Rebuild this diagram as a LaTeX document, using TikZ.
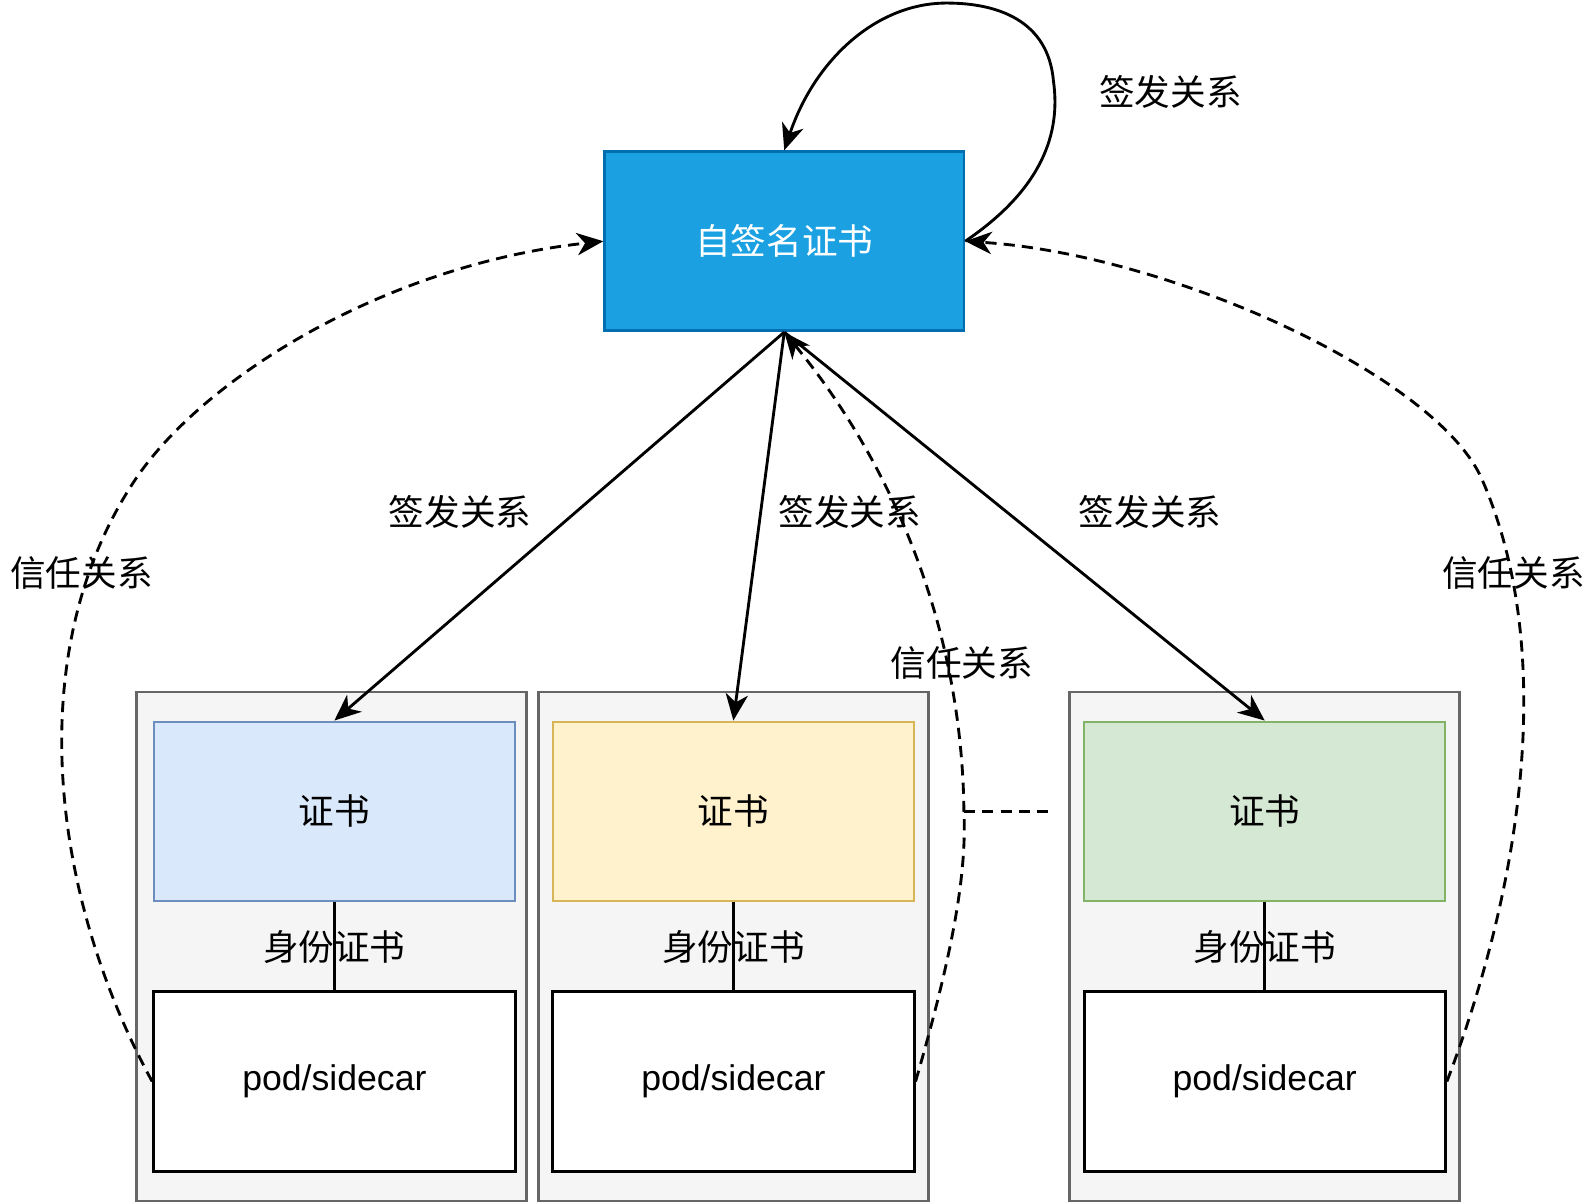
\documentclass[tikz,border=0pt]{standalone}
\usepackage{fontspec}
\setmainfont{Liberation Sans}
\newfontfamily\cjk{Noto Sans CJK SC}
\usetikzlibrary{arrows.meta, calc}

\definecolor{rootfill}{HTML}{1BA1E2}
\definecolor{rootline}{HTML}{006EAF}
\definecolor{grpfill}{HTML}{F5F5F5}
\definecolor{grpline}{HTML}{666666}
\definecolor{bluefill}{HTML}{DAE8FC}
\definecolor{blueline}{HTML}{6C8EBF}
\definecolor{yellowfill}{HTML}{FFF2CC}
\definecolor{yellowline}{HTML}{D6B656}
\definecolor{greenfill}{HTML}{D5E8D4}
\definecolor{greenline}{HTML}{82B366}

\tikzset{
    my-root/.style={
        draw=rootline, fill=rootfill, line width=1.3pt, inner sep=0pt,
        minimum width=176.5pt, minimum height=88pt, text=white,
        font=\cjk\fontsize{17.5}{21}\selectfont
    },
    my-group/.style={
        draw=grpline, fill=grpfill, line width=1.3pt, inner sep=0pt,
        minimum width=191.5pt, minimum height=250pt
    },
    my-cert/.style 2 args={
        draw=#1, fill=#2, line width=1.1pt, inner sep=0pt,
        minimum width=177.5pt, minimum height=88pt,
        font=\cjk\fontsize{17.5}{21}\selectfont
    },
    my-pod/.style={
        draw, fill=white, line width=1.5pt, inner sep=0pt,
        minimum width=177.5pt, minimum height=88.5pt,
        font=\fontsize{17.5}{21}\selectfont
    },
    my-label/.style={
        inner sep=0pt, font=\cjk\fontsize{17.5}{21}\selectfont
    },
    my-issue/.style={
        -{Stealth[length=13pt, width=11pt, inset=4pt]}, line width=1.4pt
    },
    my-trust/.style={
        -{Stealth[length=13pt, width=11pt, inset=4pt]}, line width=1.4pt,
        dash pattern=on 5.5pt off 3.5pt
    },
}

\begin{document}
\begin{tikzpicture}[x=0.5pt, y=-0.5pt]

        \useasboundingbox (0,0) rectangle (1568,1182);

        % ROOT
        \node[my-root]  (ROOT)  at (770.5,237)  {自签名证书};

        % GROUPS
        \node[my-group] (GRP1)  at (325.5,930)  {};
        \node[my-group] (GRP2)  at (720.5,930)  {};
        \node[my-group] (GRP3)  at (1242.5,930) {};

        % CERTS
        \node[my-cert={blueline}{bluefill}]     (CERT1) at (328.5,797)  {证书};
        \node[my-cert={yellowline}{yellowfill}] (CERT2) at (720.5,797)  {证书};
        \node[my-cert={greenline}{greenfill}]   (CERT3) at (1242.5,797) {证书};

        % PODS
        \node[my-pod]   (POD1)  at (328.5,1062.5)  {pod/sidecar};
        \node[my-pod]   (POD2)  at (720.5,1062.5)  {pod/sidecar};
        \node[my-pod]   (POD3)  at (1242.5,1062.5) {pod/sidecar};

        % CERT TO POD
        \draw[line width=1.4pt] (CERT1.south) -- (POD1.north);
        \draw[line width=1.4pt] (CERT2.south) -- (POD2.north);
        \draw[line width=1.4pt] (CERT3.south) -- (POD3.north);
        \node[my-label] (ID1) at (328.5,930)  {身份证书};
        \node[my-label] (ID2) at (720.5,930)  {身份证书};
        \node[my-label] (ID3) at (1242.5,930) {身份证书};

        % ISSUE CONNECTIONS
        \draw[my-issue] (ROOT.east) .. controls (1025,185) and (1042,130) .. (1035,80)
            .. controls (1030,20) and (980,3) .. (930,3)
            .. controls (860,3) and (800,60) .. (ROOT.north);
        \draw[my-issue] (ROOT.south) -- (CERT1.north);
        \draw[my-issue] (ROOT.south) -- (CERT2.north);
        \draw[my-issue] (ROOT.south) -- (CERT3.north);
        \node[my-label] (ISSUE0) at (1150,90)  {签发关系};
        \node[my-label] (ISSUE1) at (452,503)  {签发关系};
        \node[my-label] (ISSUE2) at (835,503)  {签发关系};
        \node[my-label] (ISSUE3) at (1130,503) {签发关系};

        % TRUST CONNECTIONS
        \coordinate (TRUSTMID) at (947,797);
        \coordinate (DOTS)     at (1030,797);
        \draw[my-trust] (POD1.west) .. controls (50,880) and (20,640) .. (133,471)
            .. controls (201,370) and (380,260) .. (ROOT.west);
        \draw[my-trust] (POD3.east) .. controls (1495,870) and (1530,640) .. (1456,471)
            .. controls (1412,370) and (1150,250) .. (ROOT.east);
        \draw[my-trust] (POD2.east) .. controls (935,940) and (950,860) .. (TRUSTMID)
            .. controls (945,610) and (872,450) .. (ROOT.south);
        \draw[line width=1.4pt, dash pattern=on 5.5pt off 3.5pt] (TRUSTMID) -- (DOTS);
        \node[my-label] (TRUST1) at (80,563)   {信任关系};
        \node[my-label] (TRUST2) at (945,651)  {信任关系};
        \node[my-label] (TRUST3) at (1487,563) {信任关系};

\end{tikzpicture}
\end{document}
